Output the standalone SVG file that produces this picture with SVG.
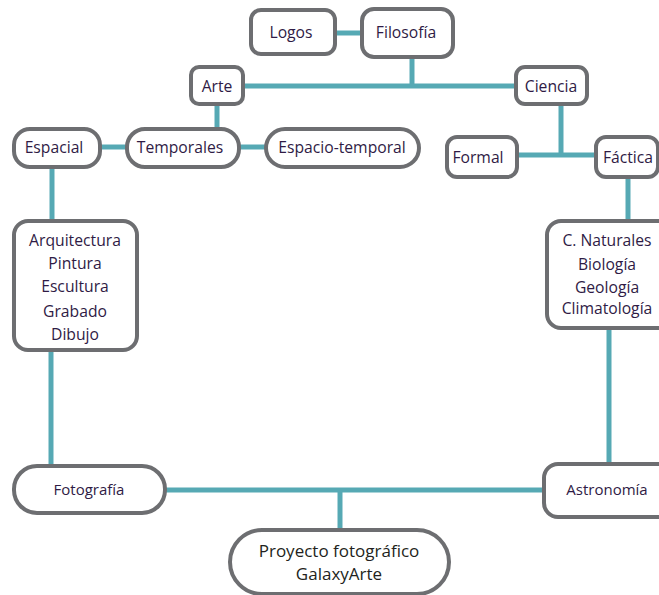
<svg xmlns="http://www.w3.org/2000/svg" width="659" height="595" viewBox="0 0 659 595">
<style>
.box{fill:#ffffff;stroke:#6d6e71;stroke-width:4}
.t{font-family:"Open Sans","Noto Sans","DejaVu Sans",sans-serif;font-size:15.7px;fill:#2f1b45;text-anchor:middle}
.s{font-size:15px}
.p{font-size:17px;fill:#231f20}
#connectors line{stroke:#56a9b4;stroke-width:5;fill:none}
</style>
<rect width="659" height="595" fill="#ffffff"/>
<g id="connectors">
<line x1="336" y1="33" x2="362" y2="33"/>
<line x1="412" y1="57" x2="412" y2="86"/>
<line x1="243" y1="86" x2="516" y2="86"/>
<line x1="217" y1="104" x2="217" y2="129"/>
<line x1="100" y1="147" x2="127" y2="147"/>
<line x1="239" y1="147" x2="266" y2="147"/>
<line x1="52" y1="167" x2="52" y2="221"/>
<line x1="51" y1="350" x2="51" y2="466"/>
<line x1="561" y1="104" x2="561" y2="155"/>
<line x1="517" y1="155" x2="596" y2="155"/>
<line x1="628" y1="177" x2="628" y2="221"/>
<line x1="609" y1="328" x2="609" y2="464"/>
<line x1="165" y1="490" x2="544" y2="490"/>
<line x1="340" y1="490" x2="340" y2="530"/>
</g>
<g id="logos"><rect class="box" x="251" y="10" width="84" height="44" rx="10"/><text class="t" x="291" y="38">Logos</text></g>
<g id="filosofia"><rect class="box" x="362" y="9" width="91" height="48" rx="12"/><text class="t" x="406" y="38">Filosofía</text></g>
<g id="arte"><rect class="box" x="191" y="67" width="52" height="37" rx="8"/><text class="t" x="217" y="92">Arte</text></g>
<g id="ciencia"><rect class="box" x="516" y="67" width="71" height="37" rx="9"/><text class="t" x="551" y="92">Ciencia</text></g>
<g id="espacial"><rect class="box" x="14" y="129" width="86" height="38" rx="16"/><text class="t" x="54" y="153">Espacial</text></g>
<g id="temporales"><rect class="box" x="127" y="129" width="112" height="38" rx="18"/><text class="t" x="180" y="153">Temporales</text></g>
<g id="espacio-temporal"><rect class="box" x="266" y="129" width="153" height="38" rx="19"/><text class="t" x="342" y="153">Espacio-temporal</text></g>
<g id="formal"><rect class="box" x="447" y="137" width="70" height="40" rx="10"/><text class="t" x="478" y="163">Formal</text></g>
<g id="factica"><rect class="box" x="596" y="137" width="62" height="40" rx="10"/><text class="t" x="628" y="163">Fáctica</text></g>
<g id="artes"><rect class="box" x="14" y="221" width="123" height="129" rx="14"/>
<text class="t" x="75" y="246">Arquitectura</text>
<text class="t" x="75" y="269">Pintura</text>
<text class="t" x="75" y="292">Escultura</text>
<text class="t" x="75" y="317">Grabado</text>
<text class="t" x="75" y="340">Dibujo</text></g>
<g id="naturales"><rect class="box" x="547" y="221" width="130" height="107" rx="14"/>
<text class="t" x="607" y="246">C. Naturales</text>
<text class="t" x="607" y="270">Biología</text>
<text class="t" x="607" y="293">Geología</text>
<text class="t" x="607" y="314">Climatología</text></g>
<g id="fotografia"><rect class="box" x="14" y="466" width="151" height="47" rx="23"/><text class="t s" x="89" y="495">Fotografía</text></g>
<g id="astronomia"><rect class="box" x="544" y="464" width="130" height="53" rx="14"/><text class="t s" x="607" y="495">Astronomía</text></g>
<g id="proyecto"><rect class="box" x="230" y="530" width="219" height="64" rx="32"/>
<text class="t p" x="339" y="557">Proyecto fotográfico</text>
<text class="t p" x="339" y="580">GalaxyArte</text></g>
</svg>
